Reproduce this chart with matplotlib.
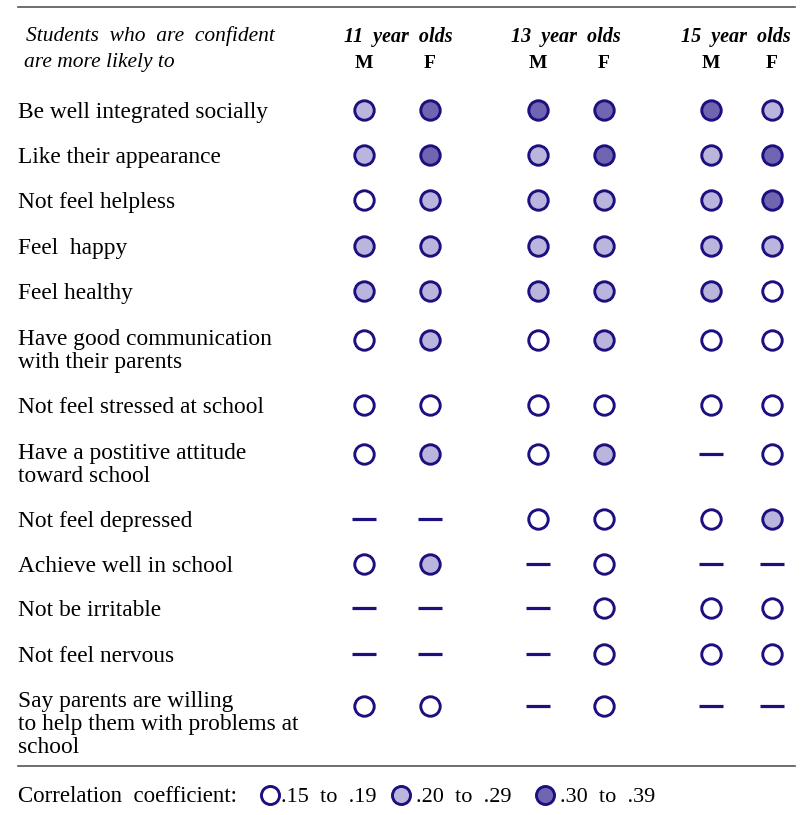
import numpy as np
import matplotlib.pyplot as plt

plt.rcParams['font.family'] = ['Liberation Serif', 'DejaVu Serif']

# 0 = not significant (dash), 1 = .15-.19, 2 = .20-.29, 3 = .30-.39
rows = ["Be well integrated socially",
        "Like their appearance",
        "Not feel helpless",
        "Feel  happy",
        "Feel healthy",
        "Have good communication\nwith their parents",
        "Not feel stressed at school",
        "Have a postitive attitude\ntoward school",
        "Not feel depressed",
        "Achieve well in school",
        "Not be irritable",
        "Not feel nervous",
        "Say parents are willing\nto help them with problems at\nschool"]
levels = [[2, 3, 3, 3, 3, 2],
          [2, 3, 2, 3, 2, 3],
          [1, 2, 2, 2, 2, 3],
          [2, 2, 2, 2, 2, 2],
          [2, 2, 2, 2, 2, 1],
          [1, 2, 1, 2, 1, 1],
          [1, 1, 1, 1, 1, 1],
          [1, 2, 1, 2, 0, 1],
          [0, 0, 1, 1, 1, 2],
          [1, 2, 0, 1, 0, 0],
          [0, 0, 0, 1, 1, 1],
          [0, 0, 0, 1, 1, 1],
          [1, 1, 0, 1, 0, 0]]
groups = ["11  year  olds", "13  year  olds", "15  year  olds"]
sexes = ["M", "F"]
legend_labels = [".15  to  .19", ".20  to  .29", ".30  to  .39"]

edge = "#1c0f80"
fills = {1: "white", 2: "#b9b5dc", 3: "#6f65b0"}

# layout (pixels)
col_x = [364, 430, 538, 604, 711, 772]
group_x = [398, 566, 736]
row_y = [110, 155, 200, 246, 291, 340, 405, 454, 519, 564, 608, 654, 706]
first_base = {1: 8, 2: 5, 3: 1}
pitch = 23

fig = plt.figure(figsize=(8.08, 8.15), dpi=100)
ax = fig.add_axes([0, 0, 1, 1])
ax.set_xlim(0, 808)
ax.set_ylim(815, 0)
ax.axis("off")

ax.plot([18, 795], [7, 7], color="#555555", lw=1.2)
ax.plot([18, 795], [766, 766], color="#555555", lw=1.2)

ax.text(26, 41, "Students  who  are  confident", fontsize=15.5, style="italic", va="baseline")
ax.text(24, 67, "are more likely to", fontsize=15.5, style="italic", va="baseline")

for g, name in enumerate(groups):
    ax.text(group_x[g], 42, name, fontsize=14.5, style="italic", weight="bold", ha="center", va="baseline")
    for s, sx in enumerate(sexes):
        ax.text(col_x[2 * g + s], 68, sx, fontsize=14, weight="bold", ha="center", va="baseline")

for i, (lab, lv) in enumerate(zip(rows, levels)):
    lines = lab.split("\n")
    y0 = row_y[i] + first_base[len(lines)]
    for k, line in enumerate(lines):
        ax.text(18, y0 + k * pitch, line, fontsize=16.8, va="baseline", ha="left")
    for j, v in enumerate(lv):
        if v == 0:
            ax.plot(col_x[j], row_y[i], marker="_", ms=17, mew=2.3, color=edge)
        else:
            ax.plot(col_x[j], row_y[i], marker="o", ms=14, mew=2.1,
                    mfc=fills[v], mec=edge)

# legend
ax.text(18, 802, "Correlation  coefficient:", fontsize=16.5, va="baseline")
leg_x = [270, 401, 545]
for k, lab in enumerate(legend_labels):
    ax.plot(leg_x[k], 795, marker="o", ms=13, mew=2.1, mfc=fills[k + 1], mec=edge)
    ax.text(leg_x[k] + 11 + (4 if k > 0 else 0), 802, lab, fontsize=16, va="baseline")

fig.savefig("out.png", dpi=100)
